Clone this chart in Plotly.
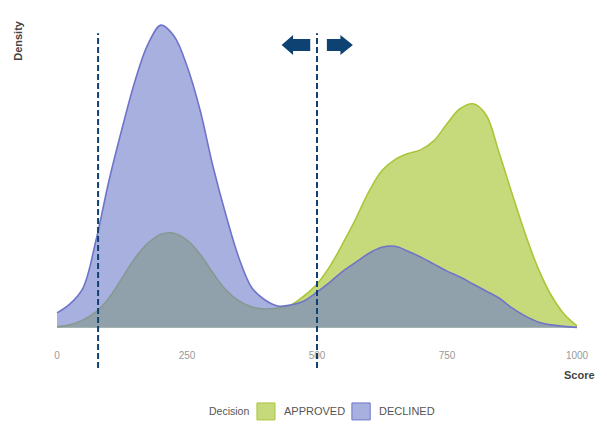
import plotly.graph_objects as go

# Score grid (every 25 points)
score = list(range(0, 1001, 25))

# Density estimates (arbitrary units, x 1e-5)
approved = [1, 3, 8, 16, 30, 50, 70, 85, 94, 95, 88, 74, 55, 38, 27, 21, 19,
            20, 23, 32, 44, 62, 85, 110, 137, 158, 169, 175, 179, 188, 205,
            220, 225, 214, 176, 135, 95, 60, 33, 14, 2]
declined = [15, 24, 40, 88, 148, 200, 248, 285, 304, 293, 263, 219, 162, 113,
            70, 40, 28, 22, 23, 27, 36, 46, 57, 66, 75, 81, 82, 77, 71, 64, 57,
            51, 44, 37, 30, 20, 12, 6, 3, 1.5, 0.5]

tick_vals = [0, 250, 500, 750, 1000]
tick_text = ["0", "250", "500", "750", "1000"]
cutoffs = [79, 500]
legend_title = "Decision"
legend_names = ["APPROVED", "DECLINED"]

appr_fill = "rgba(160,193,37,0.6)"
appr_line = "#a9c63a"
decl_fill = "rgba(110,123,203,0.6)"
decl_line = "#6f74c9"
dark_blue = "#0d4272"
text_col = "#555"

fig = go.Figure()
fig.add_trace(go.Scatter(x=score, y=[v * 1e-5 for v in approved], mode="lines",
                         line=dict(color=appr_line, width=1.6, shape="spline"),
                         fill="tozeroy", fillcolor=appr_fill, showlegend=False,
                         name=legend_names[0]))
fig.add_trace(go.Scatter(x=score, y=[v * 1e-5 for v in declined], mode="lines",
                         line=dict(color=decl_line, width=1.6, shape="spline"),
                         fill="tozeroy", fillcolor=decl_fill, showlegend=False,
                         name=legend_names[1]))

ymax = max(max(approved), max(declined)) * 1e-5

shapes = []
for c in cutoffs:
    shapes.append(dict(type="line", xref="x", yref="paper", x0=c, x1=c,
                       y0=-0.075, y1=0.93,
                       line=dict(color=dark_blue, width=2, dash="6px,3px")))

# arrows (paper y, data x)
yc = 0.895
hh = 0.030
sh = 0.018
def arrow(tip, head_end, tail):
    return (f"M {tip} {yc} L {head_end} {yc+hh} L {head_end} {yc+sh} L {tail} {yc+sh} "
            f"L {tail} {yc-sh} L {head_end} {yc-sh} L {head_end} {yc-hh} Z")
shapes.append(dict(type="path", xref="x", yref="paper",
                   path=arrow(432, 454, 487), fillcolor=dark_blue, line=dict(width=0)))
shapes.append(dict(type="path", xref="x", yref="paper",
                   path=arrow(569, 545, 519), fillcolor=dark_blue, line=dict(width=0)))

# manual legend (paper coords)
ly0, ly1, lyc = -0.231, -0.180, -0.204
shapes.append(dict(type="rect", xref="paper", yref="paper", x0=0.395, x1=0.4266,
                   y0=ly0, y1=ly1, fillcolor=appr_fill, line=dict(color=appr_line, width=1)))
shapes.append(dict(type="rect", xref="paper", yref="paper", x0=0.561, x1=0.593,
                   y0=ly0, y1=ly1, fillcolor=decl_fill, line=dict(color=decl_line, width=1)))

annotations = [
    dict(text="<b>Density</b>", xref="paper", yref="paper", x=-0.023, y=0.91,
         xanchor="center", yanchor="middle",
         textangle=-90, showarrow=False, font=dict(size=11, color="#444")),
    dict(text="<b>Score</b>", xref="paper", yref="paper", x=0.989, y=-0.096,
         xanchor="right", yanchor="middle",
         showarrow=False, font=dict(size=11, color="#444")),
    dict(text=legend_title, xref="paper", yref="paper", x=0.3846, y=lyc,
         xanchor="right", yanchor="middle", showarrow=False,
         font=dict(size=10.5, color=text_col)),
    dict(text=legend_names[0], xref="paper", yref="paper", x=0.4388, y=lyc,
         xanchor="left", yanchor="middle", showarrow=False,
         font=dict(size=11, color=text_col)),
    dict(text=legend_names[1], xref="paper", yref="paper", x=0.605, y=lyc,
         xanchor="left", yanchor="middle", showarrow=False,
         font=dict(size=11, color=text_col)),
]

fig.update_layout(
    width=599, height=416,
    margin=dict(l=23, r=4, t=2, b=81),
    paper_bgcolor="white", plot_bgcolor="white",
    showlegend=False,
    font=dict(family="Liberation Sans, Arial, sans-serif", color=text_col),
    xaxis=dict(range=[-50, 1050], tickvals=tick_vals, ticktext=tick_text,
               showgrid=False, zeroline=False, showline=False, ticks="",
               ticklabelstandoff=5,
               tickfont=dict(size=10, color="#999")),
    yaxis=dict(range=[-0.05 * ymax, 1.05 * ymax], showticklabels=False,
               showgrid=False, zeroline=False, showline=False, ticks=""),
    shapes=shapes,
    annotations=annotations,
)

fig.write_html("out.html")
